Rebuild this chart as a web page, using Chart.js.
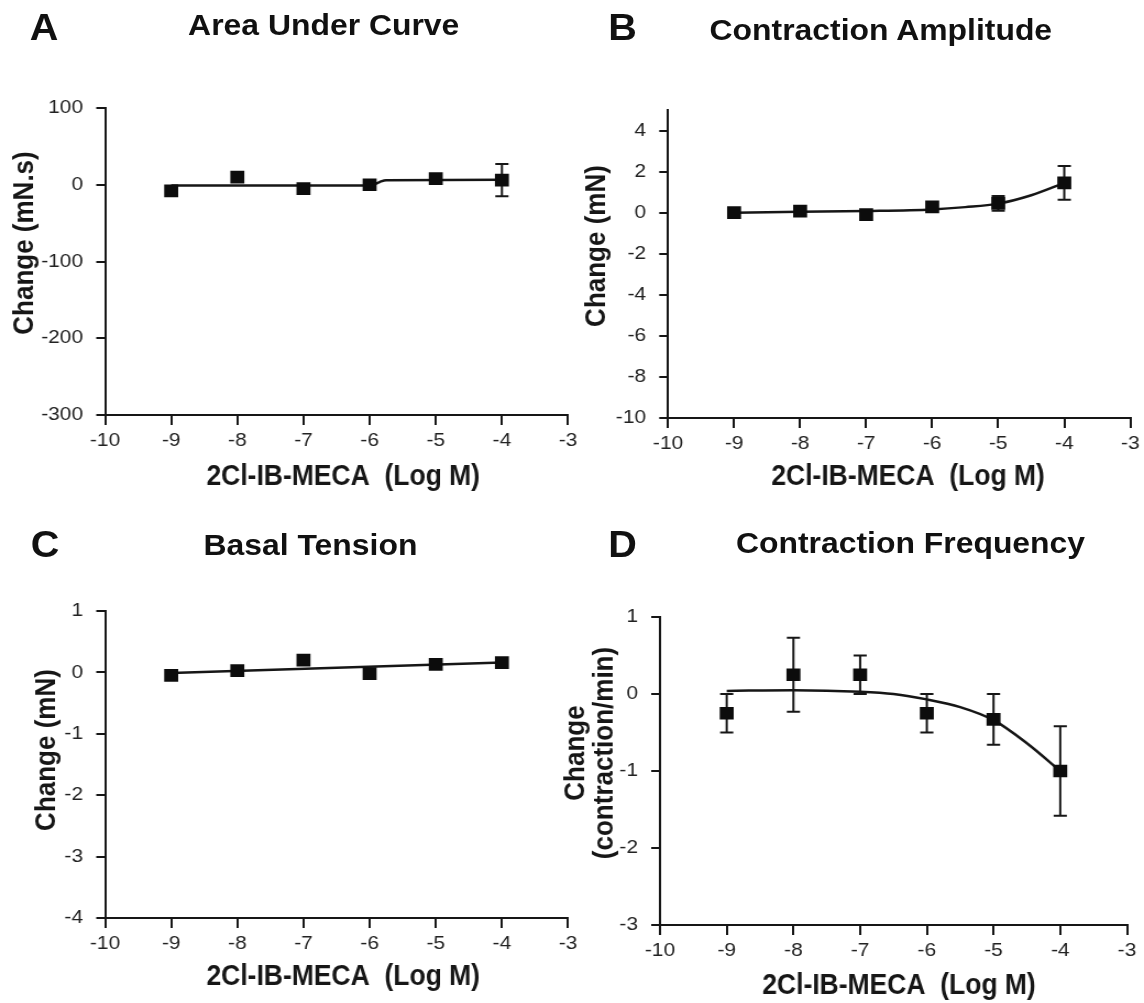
<!DOCTYPE html>
<html lang="en">
<head>
<meta charset="UTF-8"/>
<title>2Cl-IB-MECA concentration-response</title>
<script src="https://cdn.jsdelivr.net/npm/chart.js@4.4.1/dist/chart.umd.min.js"></script>
<style>
  body{margin:0;background:#fff;overflow:hidden;}
  /* the figure is laid out narrow and widened a little, like the printed plate */
  #page{position:relative;width:1040px;height:1003px;transform:scaleX(1.1);transform-origin:0 0;font-family:'Liberation Sans',Arial,sans-serif;color:#111;}
  #page canvas{position:absolute;}
  .tag,.head{position:absolute;font-weight:bold;line-height:1;white-space:nowrap;}
  .tag{font-size:36px;}
  .head{font-size:29px;}
</style>
</head>
<body>
<div id="page">
  <div class="tag" style="left:27px;top:10px">A</div>
  <div class="head" style="left:171px;top:11px">Area Under Curve</div>
  <div class="tag" style="left:553px;top:10px">B</div>
  <div class="head" style="left:645px;top:16px">Contraction Amplitude</div>
  <div class="tag" style="left:28px;top:527px">C</div>
  <div class="head" style="left:185px;top:531px">Basal Tension</div>
  <div class="tag" style="left:553px;top:527px">D</div>
  <div class="head" style="left:669px;top:529px">Contraction Frequency</div>

  <canvas id="cA" width="540" height="500" style="left:0;top:0"></canvas>
  <canvas id="cB" width="525" height="500" style="left:515px;top:0"></canvas>
  <canvas id="cC" width="540" height="503" style="left:0;top:500px"></canvas>
  <canvas id="cD" width="550" height="503" style="left:490px;top:500px"></canvas>
</div>

<script>
  // log concentrations tested
  const doses = [-9, -8, -7, -6, -5, -4];

  // A: area under curve (mN.s)
  const aucMean = [-8, 10, -5, 0, 8, 6];
  const aucErr  = [0, 0, 0, 0, 0, 21];
  const aucFitX = [-9, -6.05, -5.95, -5.85, -5.75, -4];
  const aucFitY = [-1, -1, 0, 3.5, 6, 6.5];

  // B: contraction amplitude (mN)
  const ampMean = [0, 0.08, -0.1, 0.28, 0.45, 1.45];
  const ampErr  = [0, 0, 0, 0, 0.36, 0.82];
  const ampFitX = [-9, -8, -7, -6, -5.5, -5, -4.5, -4];
  const ampFitY = [0, 0.04, 0.08, 0.16, 0.27, 0.44, 0.85, 1.45];

  // C: basal tension (mN)
  const tensMean = [-0.05, 0.03, 0.2, -0.02, 0.13, 0.16];
  const tensErr  = [0, 0, 0, 0, 0, 0];
  const tensFitX = [-9, -4];
  const tensFitY = [-0.01, 0.16];

  // D: contraction frequency (contraction/min)
  const freqMean = [-0.25, 0.25, 0.25, -0.25, -0.33, -1.0];
  const freqErr  = [0.25, 0.48, 0.25, 0.25, 0.33, 0.58];
  const freqFitX = [-9, -8, -7, -6.5, -6, -5.5, -5, -4.5, -4];
  const freqFitY = [0.04, 0.05, 0.03, 0, -0.07, -0.17, -0.34, -0.64, -1.0];

  const xTitle = '2Cl-IB-MECA  (Log M)';
  const INK = '#161616';
  const FONT = "'Liberation Sans', Arial, sans-serif";

  // SEM bars, drawn under the markers
  const errorBars = {
    id: 'errorBars',
    beforeDatasetsDraw(chart) {
      const {ctx, scales: {x, y}} = chart;
      chart.data.datasets.forEach(ds => {
        if (!ds.errors) return;
        ctx.save();
        ctx.strokeStyle = INK;
        ctx.lineWidth = 2;
        ds.data.forEach((p, i) => {
          const e = ds.errors[i];
          if (!e) return;
          const px = x.getPixelForValue(p.x);
          const top = y.getPixelForValue(p.y + e), bot = y.getPixelForValue(p.y - e);
          ctx.beginPath();
          ctx.moveTo(px, top); ctx.lineTo(px, bot);
          ctx.moveTo(px - 6, top); ctx.lineTo(px + 6, top);
          ctx.moveTo(px - 6, bot); ctx.lineTo(px + 6, bot);
          ctx.stroke();
        });
        ctx.restore();
      });
    }
  };

  // axis captions placed by hand; the x caption is set in a condensed width
  function captions(cap) {
    return {
      id: 'captions',
      afterDraw(chart) {
        const ctx = chart.ctx;
        ctx.save();
        ctx.fillStyle = INK;
        ctx.textAlign = 'center';
        ctx.textBaseline = 'middle';
        ctx.font = 'bold 29px ' + FONT;
        ctx.save();
        ctx.translate(cap.xx, cap.xy);
        ctx.scale(0.83, 1);
        ctx.fillText(xTitle, 0, 0);
        ctx.restore();
        ctx.font = 'bold 26px ' + FONT;
        cap.yText.forEach((line, i) => {
          ctx.save();
          ctx.translate(cap.yx[i], cap.yy);
          ctx.rotate(-Math.PI / 2);
          ctx.fillText(line, 0, 0);
          ctx.restore();
        });
        ctx.restore();
      }
    };
  }

  const pts = (xs, ys) => xs.map((v, i) => ({x: v, y: ys[i]}));

  function panel(id, p) {
    const tickFont = {family: FONT, size: 19};
    new Chart(document.getElementById(id), {
      type: 'scatter',
      data: {
        datasets: [
          {
            data: pts(doses, p.mean), errors: p.err,
            pointStyle: 'rect', pointRadius: 9,
            backgroundColor: '#0c0c0c', borderColor: '#0c0c0c', borderWidth: 0,
            showLine: false
          },
          {
            data: pts(p.fitX, p.fitY),
            showLine: true, pointRadius: 0, borderColor: INK, borderWidth: 2.5,
            cubicInterpolationMode: 'monotone', fill: false
          }
        ]
      },
      options: {
        responsive: false, animation: false, events: [],
        layout: {padding: {left: 0, top: p.top, right: p.right, bottom: 0}},
        plugins: {legend: {display: false}, tooltip: {enabled: false}},
        scales: {
          x: {
            type: 'linear', min: -10, max: -3,
            afterFit: s => { s.height = p.xh; },
            ticks: {stepSize: 1, font: tickFont, color: '#222', padding: 4, maxRotation: 0, autoSkip: false},
            grid: {drawOnChartArea: false, tickLength: 10, color: INK, lineWidth: 2},
            border: {color: INK, width: 2}
          },
          y: {
            type: 'linear', min: p.min, max: p.max,
            afterFit: s => { s.width = p.yw; },
            ticks: {stepSize: p.step, includeBounds: false, font: tickFont, color: '#222', padding: 12, autoSkip: false},
            grid: {drawOnChartArea: false, tickLength: 8, color: INK, lineWidth: 2},
            border: {color: INK, width: 2}
          }
        }
      },
      plugins: [errorBars, captions(p.cap)]
    });
  }

  panel('cA', {
    mean: aucMean, err: aucErr, fitX: aucFitX, fitY: aucFitY,
    min: -300, max: 100, step: 100,
    top: 108, right: 23.6, yw: 95.5, xh: 85,
    cap: {xx: 312, xy: 477, yText: ['Change (mN.s)'], yx: [22.7], yy: 243}
  });
  panel('cB', {
    mean: ampMean, err: ampErr, fitX: ampFitX, fitY: ampFitY,
    min: -10, max: 5, step: 2,
    top: 110, right: 11.8, yw: 92.3, xh: 82,
    cap: {xx: 310.5, xy: 477, yText: ['Change (mN)'], yx: [27.7], yy: 246}
  });
  panel('cC', {
    mean: tensMean, err: tensErr, fitX: tensFitX, fitY: tensFitY,
    min: -4, max: 1, step: 1,
    top: 111, right: 23.6, yw: 95.5, xh: 85,
    cap: {xx: 312, xy: 477, yText: ['Change (mN)'], yx: [42.7], yy: 250}
  });
  panel('cD', {
    mean: freqMean, err: freqErr, fitX: freqFitX, fitY: freqFitY,
    min: -3, max: 1, step: 1,
    top: 117, right: 15.5, yw: 110, xh: 78,
    cap: {xx: 327.3, xy: 486, yText: ['Change', '(contraction/min)'], yx: [33.6, 60], yy: 253}
  });
</script>
</body>
</html>
